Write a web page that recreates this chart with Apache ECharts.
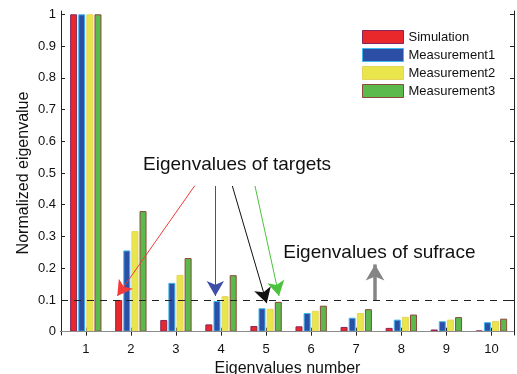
<!DOCTYPE html>
<html>
<head>
<meta charset="utf-8">
<script src="https://cdn.jsdelivr.net/npm/echarts@6/dist/echarts.min.js"></script>
<style>
  html, body { margin: 0; padding: 0; background: #fff; }
  #chart { width: 517px; height: 374px; }
</style>
</head>
<body>
<div id="chart"></div>
<script>
// Eigenvalue index along the x axis
const categories = [1, 2, 3, 4, 5, 6, 7, 8, 9, 10];

// Normalized eigenvalues per source
const simulation   = [1, 0.100, 0.037, 0.023, 0.018, 0.017, 0.015, 0.012, 0.007, 0.004];
const measurement1 = [1, 0.256, 0.154, 0.097, 0.074, 0.059, 0.044, 0.038, 0.033, 0.030];
const measurement2 = [1, 0.317, 0.179, 0.112, 0.072, 0.066, 0.059, 0.047, 0.038, 0.034];
const measurement3 = [1, 0.380, 0.232, 0.178, 0.094, 0.082, 0.071, 0.054, 0.046, 0.041];

const yTicks = [0, 0.1, 0.2, 0.3, 0.4, 0.5, 0.6, 0.7, 0.8, 0.9, 1];
const threshold = 0.1;

const FONT = '"Liberation Sans", Arial, Helvetica, sans-serif';

function pairs(vals) { return categories.map((c, i) => [c, vals[i]]); }

function arrow(from, to, color, width, head) {
  return [
    { coord: from, symbol: 'none', lineStyle: { color: color, width: width, type: 'solid' } },
    { coord: to, symbol: 'arrow', symbolSize: head }
  ];
}

const chart = echarts.init(document.getElementById('chart'), null, { renderer: 'canvas' });

const axisLineStyle = { color: '#222', width: 1 };

const barSeries = (name, vals, fill, border) => ({
  name: name,
  type: 'bar',
  barWidth: 7,
  barGap: '16%',
  data: pairs(vals),
  itemStyle: { color: fill, borderColor: border, borderWidth: 1 }
});

const option = {
  animation: false,
  backgroundColor: '#fff',
  textStyle: { fontFamily: FONT },
  grid: { left: 61, right: 3, top: 11, bottom: 39, containLabel: false, outerBoundsMode: 'none' },
  legend: {
    orient: 'vertical',
    left: 362,
    top: 30,
    padding: 0,
    itemWidth: 41,
    itemHeight: 13,
    itemGap: 4,
    icon: 'rect',
    itemStyle: { borderWidth: 1 },
    textStyle: { fontSize: 13, color: '#111', fontFamily: FONT },
    data: ['Simulation', 'Measurement1', 'Measurement2', 'Measurement3']
  },
  xAxis: [
    {
      type: 'value',
      min: 0.45, max: 10.5,
      name: 'Eigenvalues number',
      nameLocation: 'middle',
      nameGap: 24,
      nameTextStyle: { fontSize: 16, color: '#111', fontFamily: FONT },
      axisLine: { show: true, lineStyle: axisLineStyle },
      axisTick: { show: true, inside: true, length: 4, customValues: categories, lineStyle: axisLineStyle },
      axisLabel: { show: true, customValues: categories, fontSize: 13, color: '#111', margin: 8, fontFamily: FONT },
      splitLine: { show: false }
    },
    {
      type: 'value',
      position: 'top',
      min: 0.45, max: 10.5,
      axisLine: { show: true, lineStyle: axisLineStyle },
      axisTick: { show: true, inside: true, length: 4, customValues: categories, lineStyle: axisLineStyle },
      axisLabel: { show: false },
      splitLine: { show: false }
    }
  ],
  yAxis: [
    {
      type: 'value',
      min: -0.0104, max: 1.0104,
      name: 'Normalized eigenvalue',
      nameLocation: 'middle',
      nameGap: 29,
      nameMoveOverlap: false,
      nameTextStyle: { fontSize: 16, color: '#111', fontFamily: FONT },
      axisLine: { show: true, lineStyle: axisLineStyle },
      axisTick: { show: true, inside: true, length: 4, customValues: yTicks, lineStyle: axisLineStyle },
      axisLabel: { show: true, customValues: yTicks, fontSize: 13, color: '#111', margin: 5, fontFamily: FONT },
      splitLine: { show: false }
    },
    {
      type: 'value',
      position: 'right',
      min: -0.0104, max: 1.0104,
      axisLine: { show: true, lineStyle: axisLineStyle },
      axisTick: { show: true, inside: true, length: 4, customValues: yTicks, lineStyle: axisLineStyle },
      axisLabel: { show: false },
      splitLine: { show: false }
    }
  ],
  series: [
    barSeries('Simulation', simulation, '#e8282b', '#86265a'),
    barSeries('Measurement1', measurement1, '#2c4fa5', '#3fb8ec'),
    barSeries('Measurement2', measurement2, '#e9e54c', '#e6d45a'),
    barSeries('Measurement3', measurement3, '#5cb94b', '#8b4a3b'),
    {
      // reference lines, pointer arrows and their captions
      name: 'notes',
      type: 'line',
      data: [],
      silent: true,
      markLine: {
        silent: true,
        symbol: ['none', 'none'],
        label: { show: false },
        data: [
          [
            { coord: [0.45, 0], symbol: 'none', lineStyle: { color: '#8c8c8c', width: 1.2, type: 'solid' } },
            { coord: [10.5, 0], symbol: 'none' }
          ],
          [
            { coord: [0.45, threshold], symbol: 'none', lineStyle: { color: '#222', width: 1, type: [7, 6] } },
            { coord: [10.5, threshold], symbol: 'none' }
          ],
          arrow([3.417, 0.460], [1.699, 0.1125], '#f23a3a', 1, [13, 15]),
          arrow([3.874, 0.459], [3.874, 0.1125], '#3d4fa6', 1, [13, 15]),
          arrow([4.251, 0.459], [5.014, 0.090], '#111111', 1, [13, 15]),
          arrow([4.754, 0.459], [5.287, 0.1125], '#4cc23c', 1, [13, 15]),
          arrow([7.417, 0.0999], [7.417, 0.212], '#858585', 3.5, [14, 16])
        ]
      },
      markPoint: {
        silent: true,
        symbol: 'rect',
        symbolSize: 0,
        data: [
          {
            coord: [2.27, 0.525],
            label: { show: true, position: 'right', distance: 0, formatter: 'Eigenvalues of targets', fontSize: 19, color: '#111', fontFamily: FONT }
          },
          {
            coord: [5.38, 0.248],
            label: { show: true, position: 'right', distance: 0, formatter: 'Eigenvalues of sufrace', fontSize: 19, color: '#111', fontFamily: FONT }
          }
        ]
      }
    }
  ]
};

chart.setOption(option);
</script>
</body>
</html>
